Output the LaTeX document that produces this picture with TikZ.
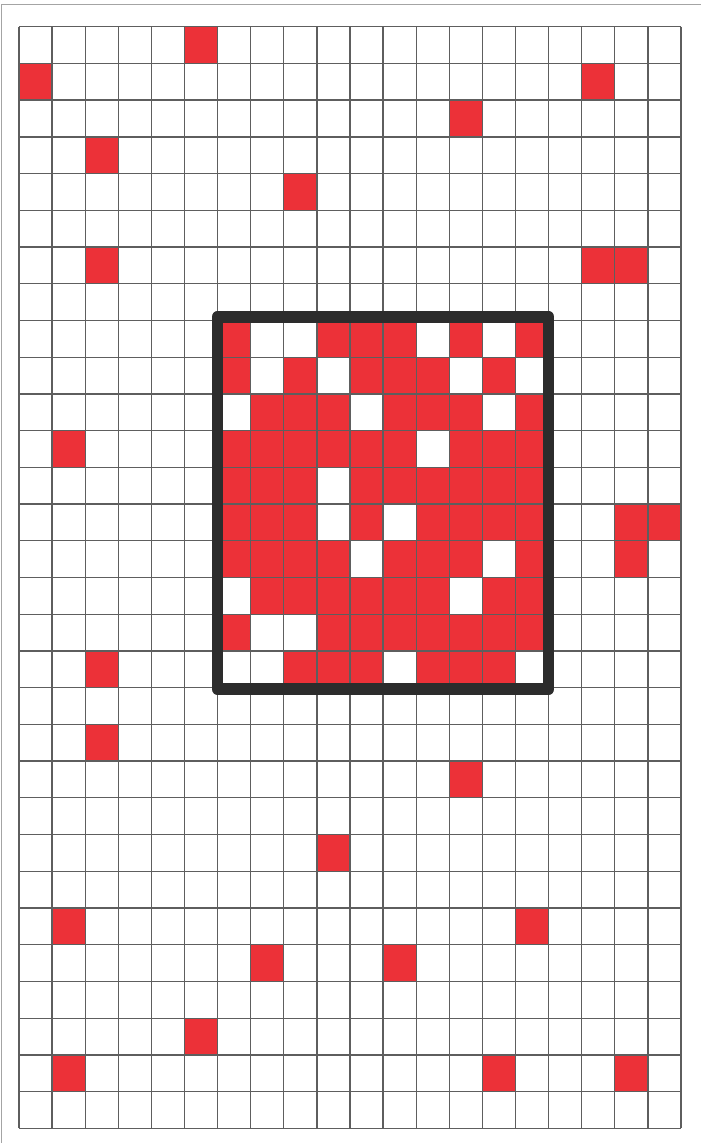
\documentclass[tikz,border=0pt]{standalone}
\usepackage{xcolor}
\definecolor{cellred}{HTML}{EC3138}
\definecolor{gridgray}{HTML}{5E5E5E}
\definecolor{boxdark}{HTML}{2C2C2C}
\definecolor{edgegray}{HTML}{A4A4A4}
\tikzset{
  redcell/.style={fill=cellred, draw=none},
  whitecell/.style={fill=white, draw=none},
  gridline/.style={draw=gridgray, line width=0.75pt},
  focusbox/.style={draw=boxdark, line width=0.235cm, line join=round},
  edgeline/.style={draw=edgegray, line width=0.6pt},
}

\begin{document}
\begin{tikzpicture}[x=0.662cm, y=-0.7344cm]
  \useasboundingbox (-0.574,-0.727) rectangle (20.604,30.400);

  % page edge
  \draw[edgeline] (20.604,-0.610) -- (-0.523,-0.610) -- (-0.523,30.400);

  % scattered red cells (column, row)
  \foreach \c/\r in {5/0, 0/1, 17/1, 13/2, 2/3, 8/4, 2/6, 17/6, 18/6,
                     1/11, 18/13, 19/13, 18/14, 2/17, 2/19, 13/20, 9/22,
                     1/24, 15/24, 7/25, 11/25, 5/27, 1/28, 14/28, 18/28}
    \fill[redcell] (\c,\r) rectangle ++(1,1);

  % dense block inside the frame
  \fill[redcell] (6,8) rectangle (16,18);
  \foreach \c/\r in {7/8, 8/8, 12/8, 14/8, 7/9, 9/9, 13/9, 15/9,
                     6/10, 10/10, 14/10, 12/11, 9/12, 9/13, 11/13,
                     10/14, 14/14, 6/15, 13/15, 7/16, 8/16,
                     6/17, 7/17, 11/17, 15/17}
    \fill[whitecell] (\c,\r) rectangle ++(1,1);

  % grid
  \foreach \c in {0,...,20}
    \draw[gridline] (\c,0) -- (\c,30);
  \foreach \r in {0,...,30}
    \draw[gridline] (0,\r) -- (20,\r);

  % frame
  \draw[focusbox] (6,7.9) rectangle (16,18.04);
\end{tikzpicture}
\end{document}
